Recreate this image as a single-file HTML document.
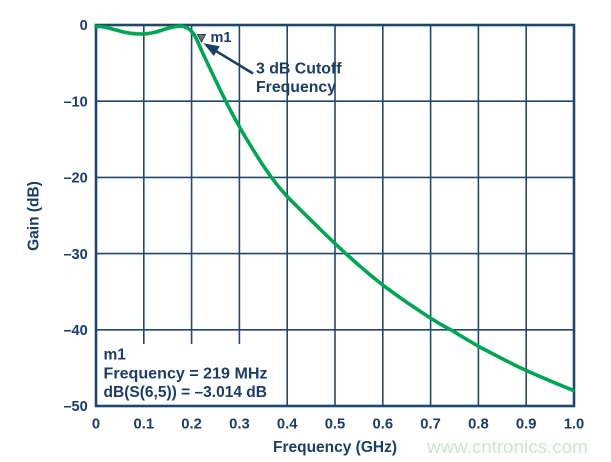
<!DOCTYPE html>
<html>
<head>
<meta charset="utf-8">
<style>
html,body{margin:0;padding:0;background:#fff;}
svg{display:block;}
text{font-family:"Liberation Sans",Arial,sans-serif;font-weight:bold;fill:#1a3d69;}
</style>
</head>
<body>
<svg width="611" height="462" viewBox="0 0 611 462" xmlns="http://www.w3.org/2000/svg">
<rect x="0" y="0" width="611" height="462" fill="#fff"/>
<!-- vertical gridlines -->
<g stroke="#22476f" stroke-width="1.6" fill="none">
<line x1="143.8" y1="25" x2="143.8" y2="344"/>
<line x1="191.6" y1="25" x2="191.6" y2="344"/>
<line x1="239.4" y1="25" x2="239.4" y2="344"/>
<line x1="287.2" y1="25" x2="287.2" y2="406"/>
<line x1="335" y1="25" x2="335" y2="406"/>
<line x1="382.8" y1="25" x2="382.8" y2="406"/>
<line x1="430.6" y1="25" x2="430.6" y2="406"/>
<line x1="478.4" y1="25" x2="478.4" y2="406"/>
<line x1="526.2" y1="25" x2="526.2" y2="406"/>
<!-- horizontal gridlines -->
<line x1="96" y1="101.2" x2="574" y2="101.2"/>
<line x1="96" y1="177.4" x2="574" y2="177.4"/>
<line x1="96" y1="253.6" x2="574" y2="253.6"/>
<line x1="96" y1="329.8" x2="574" y2="329.8"/>
</g>
<!-- frame -->
<rect x="96" y="25" width="478" height="381" fill="none" stroke="#1d4672" stroke-width="2.6"/>

<!-- curve -->
<polyline fill="none" stroke="#00a651" stroke-width="3.6" stroke-linejoin="round" stroke-linecap="round"
points="96,26.3 101,26.6 106,27.4 111,28.6 116,30 121,31.4 126,32.5 131,33.3 136,33.8 141,34 146,33.8 151,33.1 156,32 161,30.5 166,28.9 171,27.5 175,26.6 178,26.2 181,26.1 184,26.6 187,27.8 190,29.8 193,33 196,37.8 199,44.6 202,51.5 205,58 210,68.5 215,79 220,89.5 226,101.7 232,113.3 239.7,127.3 247,139.8 255,152.8 263,165.3 271,176.8 279,187.2 287.3,196.7 300,209.4 312,221.2 324,233 335.3,243.8 346,253.8 358,264.5 370,274.8 382.7,285 395,294 407,302.5 419,310.5 430.7,318.3 441,324.5 451.7,330.3 465,338.4 478.7,346.5 490,352.4 502,358.6 514,364.7 526.7,370.7 538,375.6 550,380.8 562,385.8 573,390.3"/>

<!-- marker -->
<polygon points="197.5,34.5 205.5,34.5 201.5,42" fill="#6f7276" stroke="#2d3f55" stroke-width="1"/>
<text x="210.5" y="42" font-size="14.5">m1</text>

<!-- arrow -->
<line x1="253" y1="73.5" x2="214" y2="49.8" stroke="#1a3d69" stroke-width="2.6"/>
<polygon points="203.5,43.3 213.8,56 219.8,46.3" fill="#1a3d69"/>
<text x="256" y="73.5" font-size="16" textLength="85.5" lengthAdjust="spacingAndGlyphs">3 dB Cutoff</text>
<text x="256" y="92" font-size="16" textLength="80" lengthAdjust="spacingAndGlyphs">Frequency</text>

<!-- legend box text -->
<text x="103.5" y="359.3" font-size="15.5">m1</text>
<text x="103.5" y="378.5" font-size="16" textLength="164" lengthAdjust="spacingAndGlyphs">Frequency = 219 MHz</text>
<text x="103.5" y="397" font-size="16" textLength="163.5" lengthAdjust="spacingAndGlyphs">dB(S(6,5)) = –3.014 dB</text>

<!-- y tick labels -->
<g font-size="14.6" text-anchor="end">
<text x="87.8" y="30.2">0</text>
<text x="87.8" y="106.4">–10</text>
<text x="87.8" y="182.6">–20</text>
<text x="87.8" y="258.8">–30</text>
<text x="87.8" y="335">–40</text>
<text x="87.8" y="411.2">–50</text>
</g>
<!-- x tick labels -->
<g font-size="14.8" text-anchor="middle">
<text x="96" y="428.5">0</text>
<text x="143.8" y="428.5">0.1</text>
<text x="191.6" y="428.5">0.2</text>
<text x="239.4" y="428.5">0.3</text>
<text x="287.2" y="428.5">0.4</text>
<text x="335" y="428.5">0.5</text>
<text x="382.8" y="428.5">0.6</text>
<text x="430.6" y="428.5">0.7</text>
<text x="478.4" y="428.5">0.8</text>
<text x="526.2" y="428.5">0.9</text>
<text x="574" y="428.5">1.0</text>
</g>

<!-- axis titles -->
<text x="335" y="452" font-size="15.5" text-anchor="middle">Frequency (GHz)</text>
<text transform="translate(38.5,216) rotate(-90)" font-size="15.5" text-anchor="middle">Gain (dB)</text>

<!-- watermark -->
<text x="427" y="453" font-size="18.8" style="font-weight:normal;fill:#c8e8c4">www.cntronics.com</text>
</svg>
</body>
</html>
